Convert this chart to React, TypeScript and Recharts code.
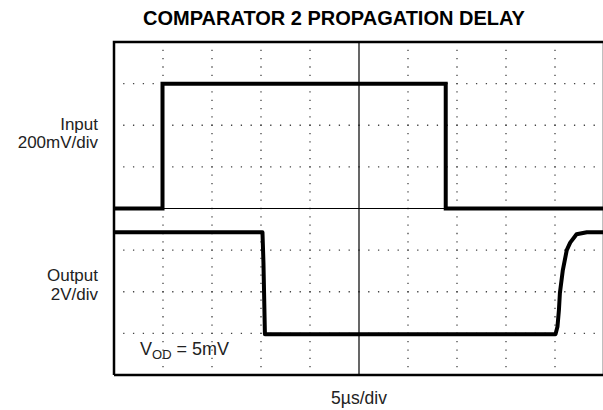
import { ComposedChart, Line, XAxis, YAxis, ReferenceLine } from "recharts";

// scope traces, in divisions (x: 10 div, y: 8 div, centre = 0)
const inputTime = [0, 0.99, 0.99, 6.77, 6.77, 10];
const inputLevel = [0, 0, 3, 3, 0, 0];

const outputTime = [0, 3.03, 3.05, 3.08, 9.01, 9.05, 9.08, 9.1, 9.16, 9.24, 9.31, 9.44, 9.65, 10];
const outputLevel = [-0.57, -0.57, -1.3, -3.02, -3.02, -2.84, -2.44, -2.03, -1.48, -1.0, -0.82, -0.62, -0.57, -0.57];

const xDivs = [0, 1, 2, 3, 4, 5, 6, 7, 8, 9, 10];
const yDivs = [-4, -3, -2, -1, 0, 1, 2, 3, 4];

const inputData = inputTime.map((t, i) => ({ t, v: inputLevel[i] }));
const outputData = outputTime.map((t, i) => ({ t, v: outputLevel[i] }));

const W = 610;
const H = 410;
const M = { top: 42, left: 114, right: 6, bottom: 35 };
const plotW = W - M.left - M.right;
const plotH = H - M.top - M.bottom;

const FONT = "'Liberation Sans', Arial, Helvetica, sans-serif";

// graticule minor marks, 5 per division
const minorX: number[] = [];
for (let i = 1; i < 50; i++) minorX.push(i / 5);
const minorY: number[] = [];
for (let i = -19; i < 20; i++) minorY.push(i / 5);

const isMajor = (v: number) => Math.abs(v - Math.round(v)) < 1e-6;

const frame = [{ t: 0, v: -4 }, { t: 0, v: 4 }, { t: 10, v: 4 }, { t: 10, v: -4 }, { t: 0, v: -4 }];

const TICK = { stroke: "#000", strokeWidth: 1.2 };

// x comes from the axis scale; marks go on top edge, centre axis and bottom edge
const XTick = (p: any) => {
  const x = p.x;
  const big = isMajor(p.payload.value);
  const e = big ? 8 : 5;
  const m = big ? 6 : 3;
  const top = M.top;
  const bot = M.top + plotH;
  const mid = M.top + plotH / 2;
  return (
    <g>
      <line x1={x} x2={x} y1={top} y2={top + e} {...TICK} />
      <line x1={x} x2={x} y1={bot} y2={bot - e} {...TICK} />
      <line x1={x} x2={x} y1={mid - m} y2={mid + m} {...TICK} />
    </g>
  );
};

// y comes from the axis scale; marks go on left edge, centre axis and right edge
const YTick = (p: any) => {
  const y = p.y;
  const big = isMajor(p.payload.value);
  const e = big ? 8 : 5;
  const m = big ? 6 : 3;
  const left = M.left;
  const right = M.left + plotW;
  const mid = M.left + plotW / 2;
  return (
    <g>
      <line x1={left} x2={left + e} y1={y} y2={y} {...TICK} />
      <line x1={right} x2={right - e} y1={y} y2={y} {...TICK} />
      <line x1={mid - m} x2={mid + m} y1={y} y2={y} {...TICK} />
    </g>
  );
};

export default function App() {
  const dotX = plotW / 50;
  const dotY = plotH / 40;
  return (
    <div style={{ position: "absolute", left: 0, top: 0, width: 603, height: 410, overflow: "hidden", background: "#fff" }}>
      <ComposedChart width={W} height={H} margin={M}>
        <XAxis
          type="number"
          dataKey="t"
          domain={[0, 10]}
          height={0}
          ticks={minorX}
          interval={0}
          axisLine={false}
          tickLine={false}
          tick={XTick}
        />
        <YAxis
          type="number"
          dataKey="v"
          domain={[-4, 4]}
          width={0}
          ticks={minorY}
          interval={0}
          axisLine={false}
          tickLine={false}
          tick={YTick}
        />
        {xDivs
          .filter((x) => x !== 0 && x !== 5 && x !== 10)
          .map((x) => (
            <ReferenceLine key={`gx${x}`} x={x} stroke="#444" strokeWidth={1.3} strokeDasharray={`1.3 ${dotY - 1.3}`} strokeDashoffset={0.65} />
          ))}
        {yDivs
          .filter((y) => y !== 0 && Math.abs(y) !== 4)
          .map((y) => (
            <ReferenceLine key={`gy${y}`} y={y} stroke="#444" strokeWidth={1.3} strokeDasharray={`1.3 ${dotX - 1.3}`} strokeDashoffset={0.65} />
          ))}
        <ReferenceLine x={5} stroke="#000" strokeWidth={1.2} />
        <ReferenceLine y={0} stroke="#000" strokeWidth={1.2} />
        <Line id="frame" data={frame} dataKey="v" stroke="#000" strokeWidth={2.5} strokeLinejoin="miter" dot={false} isAnimationActive={false} />
        <Line id="input" data={inputData} dataKey="v" stroke="#000" strokeWidth={4} strokeLinejoin="miter" dot={false} isAnimationActive={false} />
        <Line id="output" data={outputData} dataKey="v" stroke="#000" strokeWidth={4} strokeLinejoin="round" dot={false} isAnimationActive={false} />
      </ComposedChart>
      <svg width={603} height={410} style={{ position: "absolute", left: 0, top: 0, pointerEvents: "none" }} fontFamily={FONT}>
        <text x={334} y={25} textAnchor="middle" fontSize={20} fontWeight="bold" fill="#000">
          COMPARATOR 2 PROPAGATION DELAY
        </text>
        <text x={98} y={130} textAnchor="end" fontSize={17} fill="#222">Input</text>
        <text x={98} y={148} textAnchor="end" fontSize={17} fill="#222">200mV/div</text>
        <text x={98} y={281} textAnchor="end" fontSize={17} fill="#222">Output</text>
        <text x={98} y={300} textAnchor="end" fontSize={17} fill="#222">2V/div</text>
        <text x={359} y={404} textAnchor="middle" fontSize={17.5} fill="#222">5µs/div</text>
        <text x={140} y={355} fontSize={18} fill="#222">
          V<tspan fontSize={13} dy={4}>OD</tspan>
          <tspan dy={-4}> = 5mV</tspan>
        </text>
      </svg>
    </div>
  );
}
